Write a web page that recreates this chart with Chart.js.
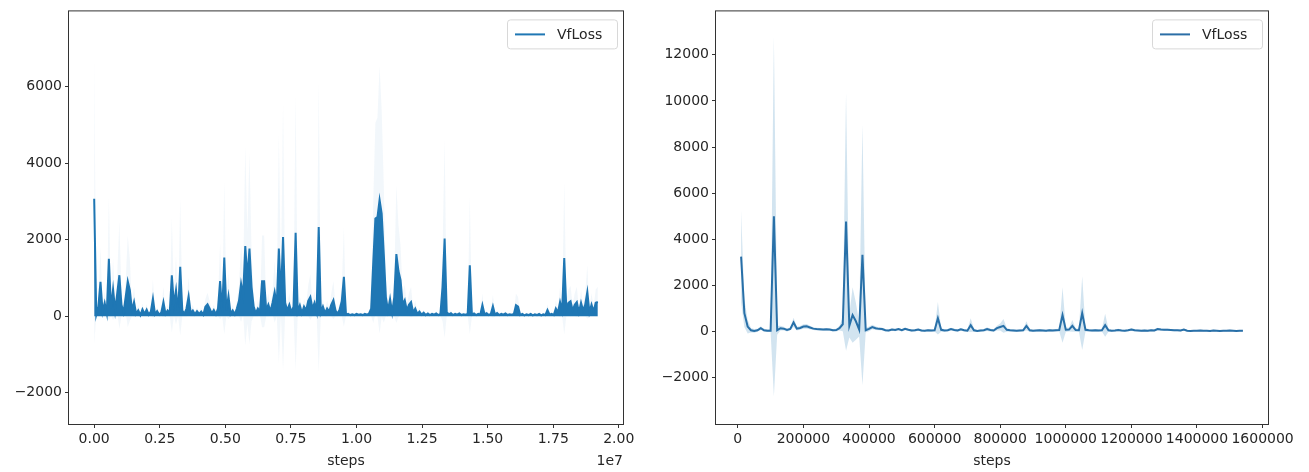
<!DOCTYPE html>
<html>
<head>
<meta charset="utf-8">
<script src="https://cdn.jsdelivr.net/npm/chart.js@4.4.1/dist/chart.umd.min.js"></script>
<style>
  html, body { margin: 0; padding: 0; background: #fff; }
  #wrap { display: flex; width: 1309px; height: 472px; }
</style>
</head>
<body>
<div id="wrap">
  <canvas id="left" width="654" height="472"></canvas>
  <canvas id="right" width="655" height="472"></canvas>
</div>
<script>
// ---- left panel: VfLoss over ~1.9e7 steps (one sample every 80000 steps)
const stepEveryL = 80000;
const lossL = [
  3070, 40, 250, 900, 120, 350, 80, 1500, 200, 700, 150, 600, 1070, 300, 100, 500, 910, 680, 150, 370,
  60, 150, 30, 180, 60, 170, 40, 120, 460, 50, 130, 40, 100, 370, 60, 150, 80, 1070, 300, 680,
  100, 1290, 150, 60, 200, 520, 80, 150, 50, 130, 60, 120, 40, 250, 310, 200, 70, 160, 50, 200,
  920, 100, 1530, 150, 520, 60, 150, 50, 200, 400, 850, 550, 1830, 1000, 1765, 760, 250, 80, 200, 120,
  910, 910, 150, 300, 120, 350, 630, 300, 1765, 500, 2070, 350, 150, 300, 100, 250, 2180, 120, 280, 80,
  250, 150, 400, 500, 200, 350, 120, 2330, 100, 250, 80, 200, 120, 300, 420, 150, 60, 180, 400, 1026,
  40, 60, 30, 50, 30, 60, 40, 50, 30, 60, 40, 70, 200, 1420, 2550, 2590, 3040, 2680, 1630, 500,
  150, 450, 100, 500, 1620, 1180, 940, 300, 420, 150, 300, 370, 100, 200, 60, 120, 40, 90, 30, 70,
  30, 60, 40, 70, 30, 60, 765, 2030, 100, 50, 80, 30, 60, 40, 70, 30, 50, 40, 60, 1330,
  40, 70, 30, 60, 40, 290, 50, 80, 30, 60, 260, 40, 80, 30, 60, 40, 70, 30, 50, 40,
  60, 290, 250, 30, 60, 20, 50, 30, 60, 20, 50, 30, 60, 20, 50, 30, 160, 40, 60, 30,
  200, 100, 370, 150, 1520, 200, 350, 390, 150, 300, 370, 100, 350, 150, 300, 630, 100, 300, 120, 350, 370
];
const spreadL = [
  3800, 50, 200, 900, 100, 300, 80, 1600, 200, 800, 150, 500, 1400, 300, 100, 400, 1200, 800, 150, 400,
  60, 150, 40, 150, 60, 150, 40, 100, 500, 50, 100, 40, 100, 400, 60, 150, 80, 1500, 300, 900,
  100, 1800, 150, 60, 200, 500, 80, 150, 50, 100, 60, 100, 40, 200, 300, 200, 60, 150, 50, 200,
  1000, 100, 2000, 150, 600, 60, 150, 50, 200, 400, 1000, 500, 2600, 1200, 2500, 900, 250, 80, 200, 100,
  1200, 1200, 150, 300, 100, 300, 800, 300, 3000, 500, 3500, 300, 150, 300, 100, 200, 3600, 100, 250, 80,
  200, 150, 400, 600, 200, 300, 100, 3800, 100, 200, 80, 200, 100, 300, 500, 150, 60, 150, 400, 1300,
  30, 40, 30, 40, 30, 40, 30, 40, 30, 40, 30, 50, 200, 1600, 2500, 2600, 3500, 2700, 1800, 500,
  150, 400, 100, 500, 1800, 1200, 900, 300, 400, 150, 300, 400, 100, 200, 60, 100, 40, 80, 30, 60,
  30, 50, 40, 60, 30, 50, 900, 2600, 100, 50, 60, 30, 50, 40, 60, 30, 40, 40, 50, 1800,
  40, 60, 30, 50, 40, 300, 50, 60, 30, 50, 300, 40, 60, 30, 50, 40, 60, 30, 40, 40,
  50, 300, 250, 30, 50, 20, 40, 30, 50, 20, 40, 30, 50, 20, 40, 30, 150, 40, 50, 30,
  200, 100, 400, 150, 2000, 200, 350, 400, 150, 300, 400, 100, 350, 150, 300, 700, 100, 300, 120, 350, 400
];
const xTicksL = [0, 2500000, 5000000, 7500000, 10000000, 12500000, 15000000, 17500000, 20000000];
const yTicksL = [-2000, 0, 2000, 4000, 6000];

// ---- right panel: VfLoss over ~1.5e6 steps (one sample every 10000 steps)
const stepStartR = 10000;
const stepEveryR = 10000;
const lossR = [
  3250, 800, 220, 60, 30, 60, 150, 60, 40, 40,
  5000, 60, 150, 130, 70, 120, 400, 130, 160, 220,
  230, 180, 130, 110, 100, 90, 100, 90, 60, 70,
  150, 320, 4770, 250, 720, 450, 90, 3330, 60, 120,
  200, 150, 120, 110, 60, 50, 90, 70, 110, 60,
  120, 80, 50, 60, 90, 50, 40, 60, 50, 60,
  580, 80, 50, 60, 110, 70, 50, 100, 60, 40,
  280, 60, 30, 50, 60, 110, 70, 50, 150, 200,
  250, 80, 60, 50, 40, 50, 60, 250, 60, 40,
  50, 60, 50, 40, 60, 50, 60, 70, 720, 80,
  90, 250, 70, 60, 800, 80, 60, 50, 60, 50,
  60, 280, 60, 40, 50, 70, 50, 40, 60, 90,
  60, 50, 40, 50, 40, 60, 50, 110, 90, 80,
  80, 70, 60, 60, 50, 90, 40, 30, 40, 40,
  50, 40, 40, 30, 50, 40, 30, 40, 40, 50,
  40, 30, 40, 40
];
const spreadR = [
  2000, 600, 300, 100, 80, 60, 80, 60, 60, 60,
  7800, 200, 100, 80, 60, 60, 200, 80, 80, 100,
  100, 80, 60, 60, 60, 50, 50, 50, 50, 60,
  100, 300, 5600, 500, 1200, 800, 300, 5650, 100, 100,
  100, 80, 60, 60, 50, 50, 50, 50, 50, 50,
  60, 50, 50, 50, 50, 50, 40, 50, 50, 50,
  700, 80, 50, 50, 60, 50, 50, 60, 50, 50,
  300, 60, 40, 50, 50, 80, 60, 50, 100, 150,
  300, 80, 50, 50, 40, 50, 50, 200, 60, 40,
  50, 50, 50, 40, 50, 50, 50, 60, 1200, 100,
  80, 250, 80, 60, 1600, 80, 50, 50, 50, 50,
  50, 500, 60, 40, 40, 50, 40, 40, 40, 60,
  50, 40, 40, 40, 40, 40, 40, 60, 50, 50,
  50, 40, 40, 40, 40, 50, 30, 30, 30, 30,
  30, 30, 30, 30, 30, 30, 30, 30, 30, 30,
  30, 30, 30, 30
];
const xTicksR = [0, 200000, 400000, 600000, 800000, 1000000, 1200000, 1400000, 1600000];
const yTicksR = [-2000, 0, 2000, 4000, 6000, 8000, 10000, 12000];

const seriesName = "VfLoss";
const FONT = "'DejaVu Sans', sans-serif";
const INK = "#262626";

// box around the axes + legend + optional offset text, matplotlib-like
const framePlugin = {
  id: "frame",
  afterDraw(chart, args, opts) {
    const { ctx, chartArea: a } = chart;
    ctx.save();
    ctx.strokeStyle = "#333";
    ctx.lineWidth = 1;
    ctx.strokeRect(a.left - 0.5, a.top - 0.5, a.right - a.left + 1, a.bottom - a.top + 1);

    // legend
    const bw = 110, bh = 29;
    const bx = a.right - 6 - bw, by = a.top + 8;
    ctx.fillStyle = "rgba(255,255,255,0.85)";
    ctx.strokeStyle = "#d8d8d8";
    ctx.beginPath();
    ctx.roundRect(bx + 0.5, by + 0.5, bw, bh, 3);
    ctx.fill();
    ctx.stroke();
    ctx.strokeStyle = opts.lineColor;
    ctx.lineWidth = 2;
    ctx.beginPath();
    ctx.moveTo(bx + 8, by + bh / 2 + 0.5);
    ctx.lineTo(bx + 38, by + bh / 2 + 0.5);
    ctx.stroke();
    ctx.fillStyle = INK;
    ctx.font = "14px " + FONT;
    ctx.textBaseline = "middle";
    ctx.textAlign = "left";
    ctx.fillText(seriesName, bx + 50, by + bh / 2 + 1);

    if (opts.offsetText) {
      ctx.textAlign = "right";
      ctx.fillText(opts.offsetText, a.right, 461);
    }
    ctx.restore();
  }
};

function fmt(v) {
  return v < 0 ? "\u2212" + Math.abs(v) : String(v);
}

function makeChart(id, steps, loss, spread, cfg) {
  const upper = steps.map((s, i) => ({ x: s, y: loss[i] + spread[i] }));
  const lower = steps.map((s, i) => ({ x: s, y: loss[i] - spread[i] }));
  const mean = steps.map((s, i) => ({ x: s, y: loss[i] }));

  return new Chart(document.getElementById(id).getContext("2d"), {
    type: "line",
    data: {
      datasets: [
        {
          data: upper,
          borderWidth: 0,
          pointRadius: 0,
          backgroundColor: cfg.bandColor,
          fill: "+1",
        },
        {
          data: lower,
          borderWidth: 0,
          pointRadius: 0,
          fill: false,
        },
        {
          label: seriesName,
          data: mean,
          borderColor: cfg.lineColor,
          backgroundColor: cfg.lineColor,
          borderWidth: cfg.lineWidth,
          pointRadius: 0,
          // the dense left run reads as a solid mass down to zero
          fill: cfg.solid ? "origin" : false,
          tension: 0,
        },
      ],
    },
    options: {
      responsive: false,
      animation: false,
      devicePixelRatio: 1,
      layout: { padding: { top: 11, right: cfg.padRight, left: 0, bottom: 0 } },
      plugins: {
        legend: { display: false },
        tooltip: { enabled: false },
        filler: { drawTime: "beforeDatasetDraw" },
        frame: { lineColor: cfg.lineColor, offsetText: cfg.offsetText },
      },
      scales: {
        x: {
          type: "linear",
          min: cfg.xMin,
          max: cfg.xMax,
          border: { display: false },
          grid: { drawOnChartArea: false, drawTicks: true, tickLength: 4, tickColor: "#333" },
          afterBuildTicks: (s) => { s.ticks = cfg.xTicks.map((v) => ({ value: v })); },
          afterFit: (s) => { s.height = 48; },
          ticks: {
            autoSkip: false,
            maxRotation: 0,
            padding: 3,
            color: INK,
            font: { family: FONT, size: 14 },
            callback: cfg.xLabel,
          },
          title: {
            display: true,
            text: "steps",
            color: INK,
            font: { family: FONT, size: 14 },
            padding: { top: 0, bottom: 2 },
          },
        },
        y: {
          min: cfg.yMin,
          max: cfg.yMax,
          border: { display: false },
          grid: { drawOnChartArea: false, drawTicks: true, tickLength: 4, tickColor: "#333" },
          afterBuildTicks: (s) => { s.ticks = cfg.yTicks.map((v) => ({ value: v })); },
          afterFit: (s) => { s.width = cfg.yWidth; },
          ticks: {
            padding: 3,
            color: INK,
            font: { family: FONT, size: 14 },
            callback: (v) => fmt(v),
          },
        },
      },
    },
    plugins: [framePlugin],
  });
}

makeChart("left", lossL.map((_, i) => i * stepEveryL), lossL, spreadL, {
  bandColor: "rgba(31,119,180,0.06)",
  lineColor: "#1f77b4",
  lineWidth: 2,
  solid: true,
  padRight: 31,
  yWidth: 69,
  xMin: -960000,
  xMax: 20160000,
  yMin: -2816,
  yMax: 7961,
  xTicks: xTicksL,
  yTicks: yTicksL,
  xLabel: (v) => (v / 1e7).toFixed(2),
  offsetText: "1e7",
});

makeChart("right", lossR.map((_, i) => stepStartR + i * stepEveryR), lossR, spreadR, {
  bandColor: "rgba(31,119,180,0.2)",
  lineColor: "#2b6ea6",
  lineWidth: 2,
  solid: false,
  padRight: 41,
  yWidth: 62,
  xMin: -66500,
  xMax: 1616500,
  yMin: -4004,
  yMax: 13883,
  xTicks: xTicksR,
  yTicks: yTicksR,
  xLabel: (v) => String(v),
  offsetText: null,
});
</script>
</body>
</html>
